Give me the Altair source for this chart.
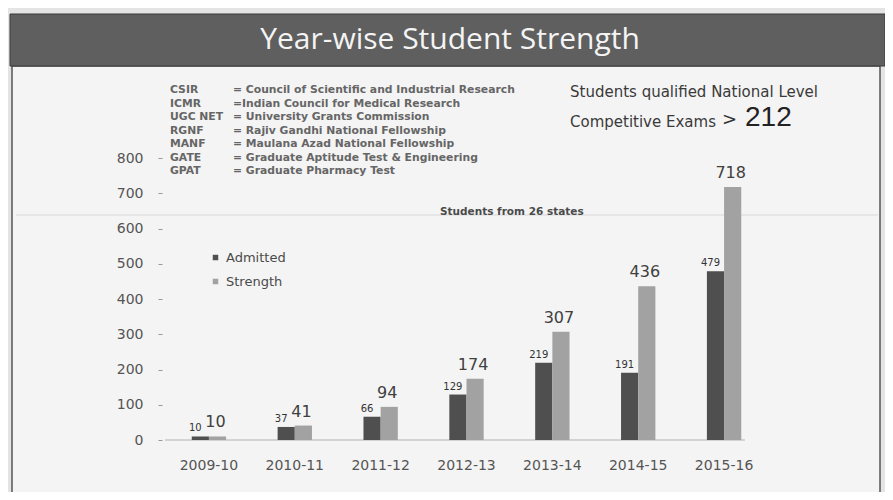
import altair as alt
import pandas as pd

years = ["2009-10", "2010-11", "2011-12", "2012-13", "2013-14", "2014-15", "2015-16"]
admitted = [10, 37, 66, 129, 219, 191, 479]
strength = [10, 41, 94, 174, 307, 436, 718]
series_names = ["Admitted", "Strength"]
series_colors = ["#4f4f4f", "#a2a2a2"]
y_ticks = [0, 100, 200, 300, 400, 500, 600, 700, 800]

abbr = ["CSIR", "ICMR", "UGC NET", "RGNF", "MANF", "GATE", "GPAT"]
meanings = [
    "= Council of Scientific and Industrial Research",
    "=Indian Council for Medical Research",
    "= University Grants Commission",
    "= Rajiv Gandhi National Fellowship",
    "= Maulana Azad National Fellowship",
    "= Graduate Aptitude Test & Engineering",
    "= Graduate Pharmacy Test",
]
title_text = "Year-wise Student Strength"
qualified_line1 = "Students qualified National Level"
qualified_line2 = "Competitive Exams"
qualified_count = "212"
states_text = "Students from 26 states"

rows = []
for yr, a, s in zip(years, admitted, strength):
    rows.append({"year": yr, "series": "Admitted", "value": a})
    rows.append({"year": yr, "series": "Strength", "value": s})
df = pd.DataFrame(rows)
one = pd.DataFrame({"k": [0]})

W, H = 601, 282

x_enc = alt.X(
    "year:N", sort=years,
    scale=alt.Scale(paddingInner=0.6, paddingOuter=0.3),
    axis=alt.Axis(title=None, labelAngle=0, ticks=False, domain=False,
                  labelFontSize=14, labelColor="#555555", labelPadding=18,
                  labelFont="DejaVu Sans", zindex=2),
)
y_enc = alt.Y(
    "value:Q",
    scale=alt.Scale(domain=[0, 800], nice=False),
    axis=alt.Axis(title=None, values=y_ticks, tickCount=9, labelOverlap=False,
                  grid=False, domain=False,
                  tickSize=4, offset=4, labelPadding=15, labelFontSize=14,
                  labelColor="#555555", tickColor="#999999",
                  labelFont="DejaVu Sans", zindex=2),
)
xoff = alt.XOffset("series:N", sort=series_names,
                   scale=alt.Scale(paddingInner=0, paddingOuter=0))

base_one = alt.Chart(one)

panel = base_one.mark_rect(fill="#f4f4f4", stroke="#555555", strokeWidth=1.5).encode(
    x=alt.value(-154), x2=alt.value(714), y=alt.value(-92), y2=alt.value(345))
header = base_one.mark_rect(fill="#5f5f5f", stroke="#3a3a3a", strokeWidth=1).encode(
    x=alt.value(-156), x2=alt.value(719), y=alt.value(-144), y2=alt.value(-92))
title = base_one.mark_text(text=title_text, font="Open Sans", fontSize=30,
                           color="#f4f4f4", align="center", baseline="middle").encode(
    x=alt.value(284), y=alt.value(-118))
faint_line = base_one.mark_rule(color="#d8d8d8", strokeWidth=1.2).encode(
    x=alt.value(-150), x2=alt.value(712), y=alt.value(57))
baseline = base_one.mark_rule(color="#c8c8c8", strokeWidth=1.5).encode(
    x=alt.value(-1), x2=alt.value(579), y=alt.datum(0))

bars = alt.Chart(df).mark_bar().encode(
    x=x_enc, y=y_enc, xOffset=xoff,
    color=alt.Color("series:N", sort=series_names,
                    scale=alt.Scale(domain=series_names, range=series_colors),
                    legend=alt.Legend(title=None, orient="none", legendX=43,
                                      legendY=93, symbolType="square",
                                      symbolSize=30, labelFontSize=13,
                                      labelFont="DejaVu Sans",
                                      labelColor="#4a4a4a", rowPadding=10,
                                      symbolStrokeWidth=0, zindex=2)),
)

adm_labels = alt.Chart(df).transform_filter(alt.datum.series == "Admitted").mark_text(
    fontSize=10, font="DejaVu Sans", color="#333333", baseline="bottom",
    dy=-3, dx=-5).encode(x=x_enc, y=y_enc, xOffset=xoff, text="value:Q")
str_labels = alt.Chart(df).transform_filter(alt.datum.series == "Strength").mark_text(
    fontSize=16, font="DejaVu Sans", color="#404040", baseline="bottom",
    dy=-6, dx=-2).encode(x=x_enc, y=y_enc, xOffset=xoff, text="value:Q")

abbr_text = base_one.mark_text(text=abbr, font="DejaVu Sans", fontSize=10.8,
                               fontWeight="bold", color="#666666", align="left",
                               baseline="top", lineHeight=13.5).encode(
    x=alt.value(4), y=alt.value(-74))
mean_text = base_one.mark_text(text=meanings, font="DejaVu Sans", fontSize=10.8,
                               fontWeight="bold", color="#666666", align="left",
                               baseline="top", lineHeight=13.5).encode(
    x=alt.value(67), y=alt.value(-74))
q1 = base_one.mark_text(text=qualified_line1, font="DejaVu Sans", fontSize=15,
                        color="#3a3a3a", align="left", baseline="middle").encode(
    x=alt.value(404), y=alt.value(-66))
q2 = base_one.mark_text(text=qualified_line2, font="DejaVu Sans", fontSize=15,
                        color="#3a3a3a", align="left", baseline="middle").encode(
    x=alt.value(404), y=alt.value(-36))
q_gt = base_one.mark_text(text=">", font="DejaVu Sans", fontSize=18,
                          color="#333333", align="left", baseline="middle").encode(
    x=alt.value(556), y=alt.value(-38))
q3 = base_one.mark_text(text=qualified_count, font="Liberation Sans", fontSize=28,
                        color="#222222", align="left", baseline="middle").encode(
    x=alt.value(579), y=alt.value(-40))
states = base_one.mark_text(text=states_text, font="DejaVu Sans", fontSize=10.5,
                            fontWeight="bold", color="#4a4a4a", align="left",
                            baseline="middle").encode(
    x=alt.value(274), y=alt.value(54))

chart = alt.layer(
    panel, header, title, faint_line, baseline, bars, adm_labels, str_labels,
    abbr_text, mean_text, q1, q2, q_gt, q3, states,
).properties(
    width=W, height=H,
    padding={"left": 158, "top": 150, "right": 118, "bottom": 52},
    autosize="none",
    background="#e4e4e4",
).configure_view(strokeWidth=0)

chart.save("out.html", embed_options={"renderer": "svg", "actions": False})
